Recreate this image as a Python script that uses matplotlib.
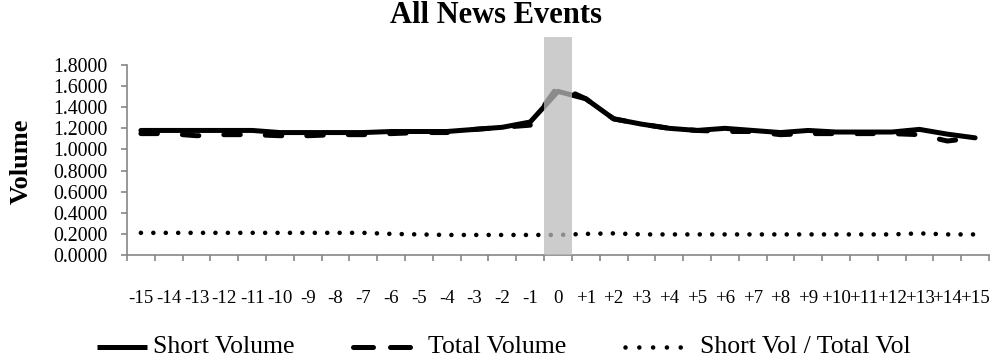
import matplotlib
matplotlib.use("Agg")
import matplotlib.pyplot as plt
from matplotlib.lines import Line2D
from matplotlib.patches import Rectangle

plt.rcParams["font.family"] = ["Liberation Serif", "DejaVu Serif"]

# event-day window around the news date
days = ["-15", "-14", "-13", "-12", "-11", "-10", "-9", "-8", "-7", "-6", "-5",
        "-4", "-3", "-2", "-1", "0", "+1", "+2", "+3", "+4", "+5", "+6", "+7",
        "+8", "+9", "+10", "+11", "+12", "+13", "+14", "+15"]

short_volume = [1.18, 1.18, 1.18, 1.18, 1.18, 1.16, 1.16, 1.16, 1.16, 1.17, 1.17,
                1.17, 1.19, 1.21, 1.26, 1.55, 1.48, 1.29, 1.24, 1.20, 1.18, 1.20,
                1.18, 1.16, 1.18, 1.165, 1.165, 1.165, 1.19, 1.145, 1.11]

total_volume = [1.15, 1.15, 1.13, 1.14, 1.14, 1.13, 1.13, 1.14, 1.14, 1.15, 1.16,
                1.16, 1.19, 1.21, 1.23, 1.60, 1.48, 1.29, 1.24, 1.20, 1.18, 1.17,
                1.17, 1.14, 1.15, 1.15, 1.15, 1.15, 1.14, 1.08, 1.11]

short_ratio = [0.21, 0.21, 0.21, 0.21, 0.21, 0.21, 0.21, 0.21, 0.21, 0.20, 0.195,
               0.19, 0.19, 0.19, 0.19, 0.19, 0.20, 0.205, 0.195, 0.195, 0.195, 0.195,
               0.195, 0.195, 0.195, 0.195, 0.195, 0.195, 0.205, 0.195, 0.195]

W, H = 993, 362
fig = plt.figure(figsize=(W / 100, H / 100), dpi=100)
ax = fig.add_axes([127 / W, 1 - 255 / H, (989 - 127) / W, (255 - 65) / H])

x = list(range(len(days)))
lw = 3.6
ax.plot(x, short_volume, color="black", lw=lw, solid_capstyle="round",
        solid_joinstyle="round", zorder=3)
ax.plot(x, total_volume, color="black", lw=lw, dashes=(3.3, 5.0),
        dash_capstyle="round", dash_joinstyle="round", zorder=3)
ax.plot(x, short_ratio, color="black", lw=3.3, dashes=(0.01, 2.7),
        dash_capstyle="round", zorder=3)

# shaded event day, laid over the lines
ax.add_patch(Rectangle((14.5, 0), 1.0, 2.07, facecolor="#bbbbbb", alpha=0.75,
                       edgecolor="none", zorder=4, clip_on=False))

ax.set_xlim(-0.5, len(days) - 0.5)
ax.set_ylim(0, 1.8)
ax.set_yticks([i * 0.2 for i in range(10)])
ax.set_yticklabels([f"{i * 0.2:.4f}" for i in range(10)])
ax.set_xticks(x)
ax.set_xticklabels(days)
ax.set_xticks([i - 0.5 for i in range(len(days) + 1)], minor=True)

for s in ["top", "right"]:
    ax.spines[s].set_visible(False)
for s in ["left", "bottom"]:
    ax.spines[s].set_color("#868686")
    ax.spines[s].set_linewidth(1.2)

ax.tick_params(axis="y", direction="out", length=4, width=1.2, color="#868686",
               labelsize=14.3, pad=10)
ax.tick_params(axis="x", which="major", length=0, labelsize=13.6, pad=25)
ax.tick_params(axis="x", which="minor", direction="out", length=4, width=1.2,
               color="#868686")

fig.text(21 / W, 1 - 161 / H, "Volume", rotation=90, ha="center", va="center",
         fontsize=19, fontweight="bold")
fig.text(0.5, 1 - 23 / H, "All News Events", ha="center", va="baseline",
         fontsize=22, fontweight="bold")

# legend row under the axis
ly = 1 - 347 / H
entries = [
    (97, 147, 153, "Short Volume", dict(lw=lw, solid_capstyle="butt")),
    (353, 416, 428, "Total Volume", dict(lw=lw, dashes=(4.0, 3.4), dash_capstyle="round")),
    (625, 690, 700, "Short Vol / Total Vol", dict(lw=3.3, dashes=(0.01, 3.0), dash_capstyle="round")),
]
for x0, x1, tx, label, style in entries:
    fig.add_artist(Line2D([x0 / W, x1 / W], [ly, ly], transform=fig.transFigure,
                          color="black", **style))
    fig.text(tx / W, ly, label, ha="left", va="center", fontsize=18.5)

fig.savefig("out.png", dpi=100)
